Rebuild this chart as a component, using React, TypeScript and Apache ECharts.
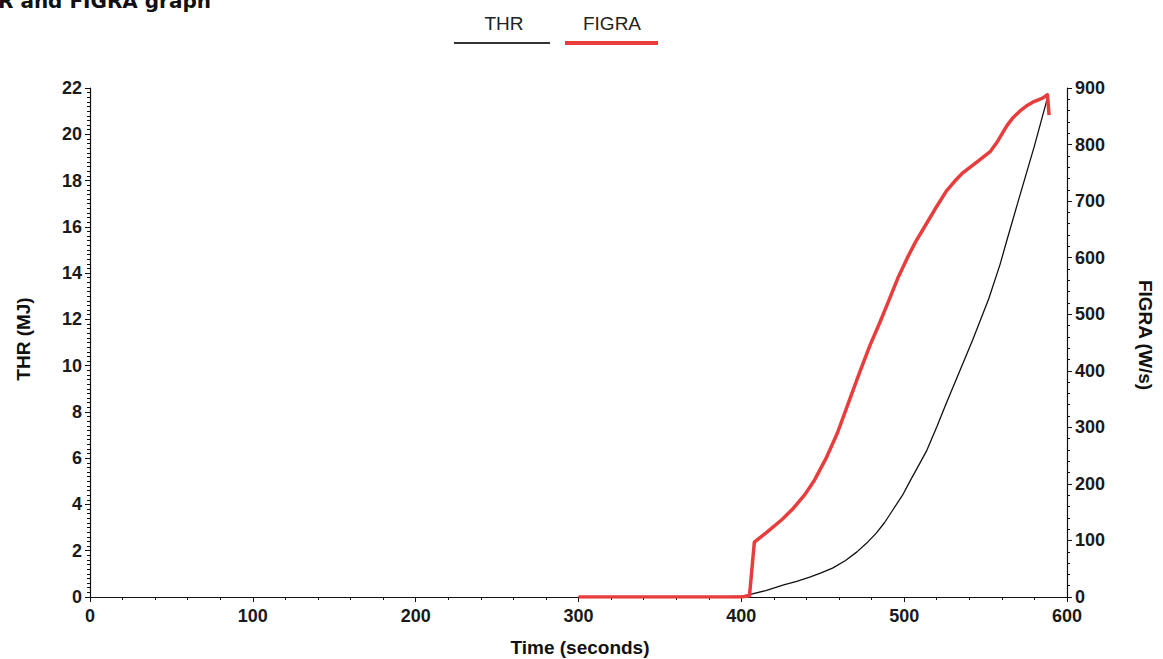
import React, { useEffect, useRef } from "react";
import * as echarts from "echarts";

// Time axis (seconds) for the THR curve and its values (MJ)
const thrTime = [300, 390, 400, 405, 415, 426, 434, 442, 449, 456, 464, 471, 477, 483, 488, 493, 499, 504, 509, 514, 520, 526, 534, 542, 552, 559, 563, 570, 580, 588.5];
const thrValues = [0, 0.01, 0.04, 0.1, 0.28, 0.52, 0.68, 0.86, 1.04, 1.25, 1.58, 1.95, 2.33, 2.77, 3.22, 3.76, 4.4, 5.06, 5.7, 6.35, 7.35, 8.4, 9.75, 11.1, 12.9, 14.4, 15.4, 17.1, 19.5, 21.7];

// Time axis (seconds) for the FIGRA curve and its values (W/s)
const figraTime = [300, 400, 405, 408, 415, 425, 432, 439, 445, 452, 459, 466, 473, 479, 485, 490, 496, 502, 507, 512, 519, 526, 531, 536, 545, 553, 557, 563, 567, 571, 575, 579, 585, 588, 589];
const figraValues = [0, 0, 2, 97, 113, 137, 157, 181, 207, 245, 290, 345, 400, 445, 485, 520, 563, 600, 628, 652, 686, 718, 735, 750, 770, 788, 804, 833, 848, 859, 868, 875, 882, 888, 852];

const titleText = "THR and FIGRA graph";
const legendNames = ["THR", "FIGRA"];
const xAxisName = "Time (seconds)";
const leftAxisName = "THR (MJ)";
const rightAxisName = "FIGRA (W/s)";

const FONT = "'Liberation Sans', Arial, sans-serif";
const RED = "#e83d3d";

export default function App() {
  const ref = useRef<HTMLDivElement>(null);

  useEffect(() => {
    document.body.style.margin = "0";
    const chart = echarts.init(ref.current!, null, { renderer: "svg" });

    const thrData = thrTime.map((t, i) => [t, thrValues[i]]);
    const figraData = figraTime.map((t, i) => [t, figraValues[i]]);

    const axisLabelStyle = {
      color: "#1a1a1a",
      fontFamily: FONT,
      fontWeight: "bold" as const,
      fontSize: 18,
    };

    chart.setOption({
      animation: false,
      backgroundColor: "#ffffff",
      grid: { left: 90, right: 96, top: 88, bottom: 62, containLabel: false },
      xAxis: {
        type: "value",
        min: 0,
        max: 600,
        interval: 100,
        axisLine: { show: true, lineStyle: { color: "#111", width: 1.2 } },
        axisTick: { show: true, length: 5, lineStyle: { color: "#111" } },
        minorTick: { show: true, splitNumber: 5, length: 3, lineStyle: { color: "#111" } },
        splitLine: { show: false },
        axisLabel: { ...axisLabelStyle, margin: 10 },
      },
      yAxis: [
        {
          type: "value",
          position: "left",
          min: 0,
          max: 22,
          interval: 2,
          axisLine: { show: true, lineStyle: { color: "#111", width: 1.2 } },
          axisTick: { show: true, length: 5, lineStyle: { color: "#111" } },
          minorTick: { show: true, splitNumber: 10, length: 3, lineStyle: { color: "#111" } },
          splitLine: { show: false },
          axisLabel: { ...axisLabelStyle, margin: 8 },
        },
        {
          type: "value",
          position: "right",
          min: 0,
          max: 900,
          interval: 100,
          axisLine: { show: true, lineStyle: { color: "#111", width: 1.2 } },
          axisTick: { show: true, length: 5, lineStyle: { color: "#111" } },
          minorTick: { show: true, splitNumber: 5, length: 3, lineStyle: { color: "#111" } },
          splitLine: { show: false },
          axisLabel: { ...axisLabelStyle, margin: 8, padding: [0, 0, 4, 0] },
        },
      ],
      series: [
        {
          name: legendNames[0],
          type: "line",
          yAxisIndex: 0,
          data: thrData,
          showSymbol: false,
          lineStyle: { color: "#111", width: 1.3 },
          itemStyle: { color: "#111" },
          z: 2,
        },
        {
          name: legendNames[1],
          type: "line",
          yAxisIndex: 1,
          data: figraData,
          showSymbol: false,
          lineStyle: { color: RED, width: 3.5, join: "round" },
          itemStyle: { color: RED },
          z: 3,
        },
      ],
      graphic: [
        {
          type: "text",
          x: 211,
          y: 1,
          style: {
            text: titleText,
            align: "right",
            verticalAlign: "middle",
            fill: "#111",
            font: `bold 20px 'DejaVu Sans', Verdana, sans-serif`,
          },
        },
        {
          type: "text",
          x: 504,
          y: 23,
          style: {
            text: legendNames[0],
            align: "center",
            verticalAlign: "middle",
            fill: "#222",
            font: `19px ${FONT}`,
          },
        },
        {
          type: "line",
          shape: { x1: 454, y1: 43, x2: 550, y2: 43 },
          style: { stroke: "#333", lineWidth: 2 },
        },
        {
          type: "text",
          x: 612,
          y: 23,
          style: {
            text: legendNames[1],
            align: "center",
            verticalAlign: "middle",
            fill: "#222",
            font: `19px ${FONT}`,
          },
        },
        {
          type: "line",
          shape: { x1: 565, y1: 43, x2: 658, y2: 43 },
          style: { stroke: RED, lineWidth: 4 },
        },
        {
          type: "text",
          x: 580,
          y: 647,
          style: {
            text: xAxisName,
            align: "center",
            verticalAlign: "middle",
            fill: "#111",
            font: `bold 19px ${FONT}`,
          },
        },
        {
          type: "text",
          x: 23,
          y: 339,
          rotation: Math.PI / 2,
          style: {
            text: leftAxisName,
            align: "center",
            verticalAlign: "middle",
            fill: "#111",
            font: `bold 19px ${FONT}`,
          },
        },
        {
          type: "text",
          x: 1145,
          y: 335,
          rotation: -Math.PI / 2,
          style: {
            text: rightAxisName,
            align: "center",
            verticalAlign: "middle",
            fill: "#111",
            font: `bold 19px ${FONT}`,
          },
        },
      ],
    });

    return () => chart.dispose();
  }, []);

  return (
    <div
      ref={ref}
      style={{ width: 1163, height: 659, position: "absolute", left: 0, top: 0 }}
    />
  );
}
